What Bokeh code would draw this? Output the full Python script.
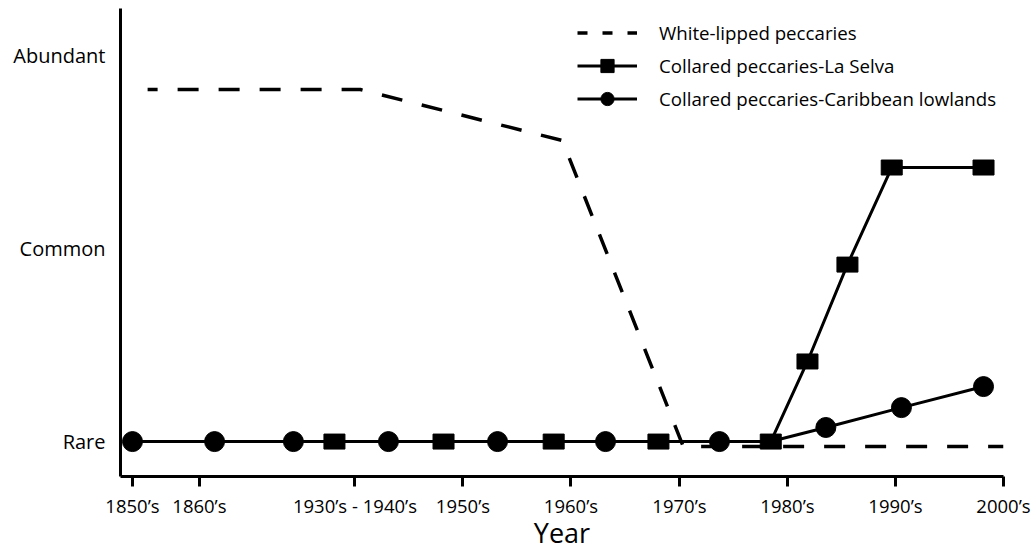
from bokeh.plotting import figure
from bokeh.models import Range1d, FixedTicker, Legend, LegendItem
from bokeh.embed import file_html
from bokeh.resources import INLINE

# ---- data (x in "decade position" units of the non-linear time axis) ----
tick_pos = [0.0, 0.62, 2.06, 3.06, 4.06, 5.065, 6.065, 7.065, 8.065]
tick_labels = ["1850\u2019s", "1860\u2019s", "1930\u2019s - 1940\u2019s", "1950\u2019s",
               "1960\u2019s", "1970\u2019s", "1980\u2019s", "1990\u2019s", "2000\u2019s"]

level_pos = [0, 1, 2]
level_labels = ["Rare", "Common", "Abundant"]

# White-lipped peccaries (dashed trend)
wlp_x = [0.14, 2.11, 3.98, 5.10, 8.065]
wlp_y = [1.824, 1.824, 1.56, -0.026, -0.026]

# Collared peccaries - La Selva (squares)
ls_x = [1.87, 2.88, 3.90, 4.87, 5.91, 6.25, 6.62, 7.03, 7.88]
ls_y = [0, 0, 0, 0, 0, 0.415, 0.917, 1.42, 1.42]

# Collared peccaries - Caribbean lowlands (circles)
cl_x = [0.0, 0.76, 1.49, 2.37, 3.38, 4.38, 5.435, 5.91, 6.42, 7.12, 7.88]
cl_y = [0, 0, 0, 0, 0, 0, 0, 0, 0.073, 0.176, 0.285]

FONT = "Open Sans"
NAN = float("nan")

x0, x1 = -0.111, 8.065
y0, y1 = -0.181, 2.244

p = figure(width=1036, height=554, output_backend="svg", toolbar_location=None,
           x_range=Range1d(x0, x1), y_range=Range1d(y0, y1),
           min_border_left=120, min_border_right=33, min_border_top=8,
           min_border_bottom=78)
p.xgrid.visible = False
p.ygrid.visible = False
p.outline_line_color = None
p.background_fill_color = "white"
p.border_fill_color = "white"

# x axis
xa = p.xaxis[0]
xa.ticker = FixedTicker(ticks=tick_pos)
xa.major_label_overrides = {t: l for t, l in zip(tick_pos, tick_labels)}
xa.axis_line_width = 3
xa.axis_line_color = "black"
xa.major_tick_line_width = 3
xa.major_tick_line_color = "black"
xa.major_tick_out = 10
xa.major_tick_in = 0
xa.minor_tick_line_color = None
xa.major_label_text_font = FONT
xa.major_label_text_font_size = "18.5px"
xa.major_label_text_color = "black"
xa.major_label_standoff = 6
xa.axis_label = "Year"
xa.axis_label_text_font = FONT
xa.axis_label_text_font_size = "27px"
xa.axis_label_text_font_style = "normal"
xa.axis_label_text_color = "black"
xa.axis_label_standoff = -7

# y axis
ya = p.yaxis[0]
ya.ticker = FixedTicker(ticks=level_pos)
ya.major_label_overrides = {t: l for t, l in zip(level_pos, level_labels)}
ya.axis_line_width = 3
ya.axis_line_color = "black"
ya.major_tick_line_color = None
ya.major_tick_out = 0
ya.major_tick_in = 0
ya.minor_tick_line_color = None
ya.major_label_text_font = FONT
ya.major_label_text_font_size = "20px"
ya.major_label_text_color = "black"
ya.major_label_standoff = 15

# series
p.line(wlp_x, wlp_y, line_color="black", line_width=3.5, line_dash="21 20",
       line_dash_offset=11)
p.line(cl_x, cl_y, line_color="black", line_width=3)
p.line(ls_x, ls_y, line_color="black", line_width=3)

shared = set(zip(ls_x, ls_y))
cmx = [x for x, y in zip(cl_x, cl_y) if (x, y) not in shared]
cmy = [y for x, y in zip(cl_x, cl_y) if (x, y) not in shared]
p.scatter(cmx, cmy, marker="circle", size=20, fill_color="black", line_color="black")
p.rect(ls_x, ls_y, width=21, height=15, width_units="screen", height_units="screen",
       fill_color="black", line_color="black")

# legend samples (no visible data)
lg_dash = p.line([NAN], [NAN], line_color="black", line_width=3.5, line_dash="10 15")
lg_line1 = p.line([NAN], [NAN], line_color="black", line_width=3)
lg_sq = p.scatter([NAN], [NAN], marker="square", size=15, fill_color="black", line_color="black")
lg_line2 = p.line([NAN], [NAN], line_color="black", line_width=3)
lg_circ = p.scatter([NAN], [NAN], marker="circle", size=19, fill_color="black", line_color="black")

legend = Legend(items=[
    LegendItem(label="White-lipped peccaries", renderers=[lg_dash]),
    LegendItem(label="Collared peccaries-La Selva", renderers=[lg_line1, lg_sq]),
    LegendItem(label="Collared peccaries-Caribbean lowlands", renderers=[lg_line2, lg_circ]),
], location=(457, 361), glyph_width=60, glyph_height=33, label_standoff=22,
    spacing=0, padding=0, margin=0, border_line_color=None,
    background_fill_alpha=0, label_text_font=FONT, label_text_font_size="18.7px",
    label_text_color="black")
p.add_layout(legend)

open("out.html", "w").write(file_html(p, INLINE))
